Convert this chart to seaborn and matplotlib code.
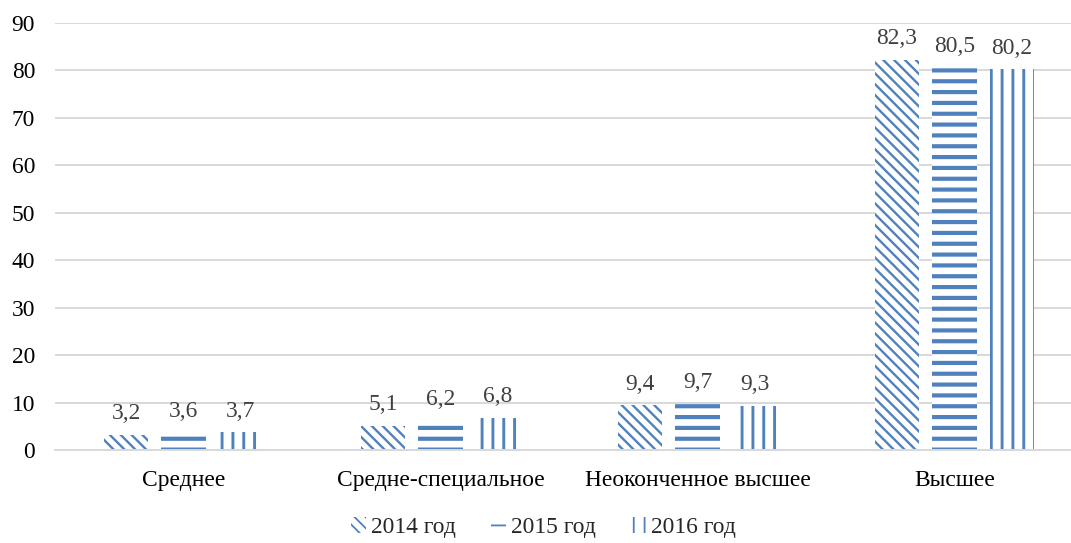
import pandas as pd
import seaborn as sns
import matplotlib.pyplot as plt
from matplotlib.patches import Patch

# --- данные ---
kategorii = ["Среднее", "Средне-специальное", "Неоконченное высшее", "Высшее"]
goda = ["2014 год", "2015 год", "2016 год"]
znach_2014 = [3.2, 5.1, 9.4, 82.3]
znach_2015 = [3.6, 6.2, 9.7, 80.5]
znach_2016 = [3.7, 6.8, 9.3, 80.2]

sinij = "#4F81BD"
shtrihi = ["\\\\\\\\", "--", "||"]
tolshina = [1.3, 2.3, 1.6]

rows = []
for god, vals in zip(goda, [znach_2014, znach_2015, znach_2016]):
    for k, v in zip(kategorii, vals):
        rows.append({"Категория": k, "Год": god, "Значение": v})
df = pd.DataFrame(rows)

sns.set_style("white")
plt.rcParams["font.family"] = ["Liberation Serif", "DejaVu Serif"]
fs = 13

dpi = 130
fig = plt.figure(figsize=(1071 / dpi, 543 / dpi), dpi=dpi)
ax = fig.add_axes([55 / 1071, 1 - 450 / 543, 1028 / 1071, (450 - 23) / 543])

sns.barplot(data=df, x="Категория", y="Значение", hue="Год", order=kategorii,
            hue_order=goda, palette=["white"] * 3, width=0.67, gap=0.22,
            linewidth=0, legend=False, ax=ax)

for i, cont in enumerate(ax.containers):
    for p in cont:
        p.set_facecolor("white")
        p.set_edgecolor(sinij)
        p.set_linewidth(0)
        p.set_hatch(shtrihi[i])
        if hasattr(p, "set_hatch_linewidth"):
            p.set_hatch_linewidth(tolshina[i])
    ax.bar_label(cont, labels=[f"{v:.1f}".replace(".", ",") for v in cont.datavalues],
                 padding=6, color="#404040", fontsize=fs)

ax.set_ylim(0, 90)
ax.set_yticks(range(0, 91, 10))
ax.yaxis.grid(True, color="#D9D9D9", linewidth=1.1)
ax.set_axisbelow(True)
for s in ["left", "right", "top"]:
    ax.spines[s].set_visible(False)
ax.spines["bottom"].set_color("#D9D9D9")
ax.spines["bottom"].set_linewidth(1.1)
ax.tick_params(axis="y", length=0, pad=11, labelsize=fs, colors="#000000")
ax.tick_params(axis="x", length=0, pad=11, labelsize=fs, colors="#000000")
ax.set_xlabel("")
ax.set_ylabel("")

ruchki = []
for i, god in enumerate(goda):
    h = Patch(facecolor="white", edgecolor=sinij, linewidth=0, hatch=shtrihi[i], label=god)
    if hasattr(h, "set_hatch_linewidth"):
        h.set_hatch_linewidth(tolshina[i])
    ruchki.append(h)
fig.legend(handles=ruchki, loc="center", bbox_to_anchor=(0.507, 0.028), ncol=3,
           frameon=False, handlelength=0.65, handleheight=0.65, handletextpad=0.2,
           columnspacing=1.5, fontsize=fs)

plt.savefig("out.png", dpi=dpi)
